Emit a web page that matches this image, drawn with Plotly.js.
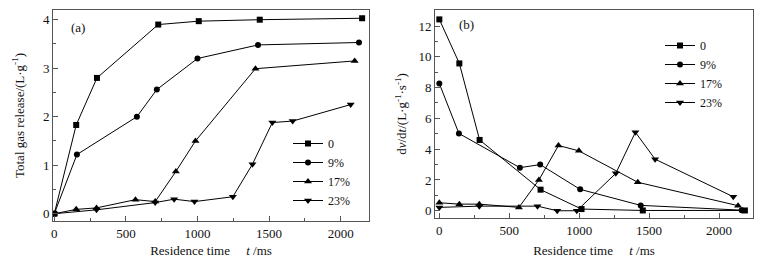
<!DOCTYPE html>
<html>
<head>
<meta charset="utf-8">
<script src="https://cdn.plot.ly/plotly-3.0.1.min.js"></script>
<style>html,body{margin:0;padding:0;background:#fff;}#chart{width:780px;height:263px;}</style>
</head>
<body>
<div id="chart"></div>
<script>
// Panel (a): total gas release
var seriesNames = ['0', '9%', '17%', '23%'];
var a_t0 = [0, 153, 298, 726, 1009, 1435, 2150];
var a_v0 = [0, 1.83, 2.80, 3.90, 3.97, 4.00, 4.03];
var a_t9 = [0, 158, 577, 716, 1000, 1423, 2128];
var a_v9 = [0, 1.22, 2.00, 2.56, 3.20, 3.48, 3.53];
var a_t17 = [0, 153, 295, 567, 705, 849, 986, 1405, 2098];
var a_v17 = [0, 0.09, 0.12, 0.29, 0.25, 0.87, 1.50, 2.99, 3.15];
var a_t23 = [0, 295, 705, 837, 979, 1247, 1384, 1523, 1665, 2070];
var a_v23 = [0, 0.08, 0.23, 0.30, 0.25, 0.35, 1.02, 1.88, 1.91, 2.25];

// Panel (b): release rate
var b_t0 = [0, 143, 288, 724, 1017, 1455, 2185];
var b_v0 = [12.43, 9.57, 4.60, 1.37, 0.11, 0.02, 0.02];
var b_t9 = [0, 140, 576, 721, 1007, 1440, 2162];
var b_v9 = [8.26, 5.02, 2.80, 3.00, 1.39, 0.35, 0.04];
var b_t17 = [0, 143, 286, 569, 712, 852, 998, 1419, 2136];
var b_v17 = [0.52, 0.43, 0.43, 0.22, 2.00, 4.24, 3.89, 1.85, 0.33];
var b_t23 = [0, 286, 702, 843, 983, 1262, 1402, 1543, 2102];
var b_v23 = [0.22, 0.30, 0.30, 0.00, 0.00, 2.43, 5.10, 3.35, 0.91];

var xTicks = [0, 500, 1000, 1500, 2000];
var yTicksA = [0, 1, 2, 3, 4];
var yTicksB = [0, 2, 4, 6, 8, 10, 12];

var symbols = ['square', 'circle', 'triangle-up', 'triangle-down'];
var sizes = [6, 6, 7, 7];

function mk(x, y, i, xa, ya, leg) {
  return {
    x: x, y: y, type: 'scatter', mode: 'lines+markers',
    name: seriesNames[i], xaxis: xa, yaxis: ya, legend: leg,
    line: {color: '#000', width: 1},
    marker: {symbol: symbols[i], size: sizes[i], color: '#000'}
  };
}

var data = [
  mk(a_t0, a_v0, 0, 'x', 'y', 'legend'),
  mk(a_t9, a_v9, 1, 'x', 'y', 'legend'),
  mk(a_t17, a_v17, 2, 'x', 'y', 'legend'),
  mk(a_t23, a_v23, 3, 'x', 'y', 'legend'),
  mk(b_t0, b_v0, 0, 'x2', 'y2', 'legend2'),
  mk(b_t9, b_v9, 1, 'x2', 'y2', 'legend2'),
  mk(b_t17, b_v17, 2, 'x2', 'y2', 'legend2'),
  mk(b_t23, b_v23, 3, 'x2', 'y2', 'legend2')
];

var font = {family: 'Liberation Serif', size: 13, color: '#111'};
var legFont = {family: 'Liberation Serif', size: 12, color: '#111'};
var axisCommon = {
  showgrid: false, zeroline: false, showline: true, mirror: true,
  linecolor: '#555', linewidth: 1, ticks: 'inside', ticklen: 5, tickcolor: '#555',
  tickfont: font
};

var layout = {
  width: 780, height: 263,
  margin: {l: 0, r: 0, t: 10, b: 42},
  paper_bgcolor: '#fff', plot_bgcolor: '#fff',
  font: font,
  showlegend: true,
  xaxis: Object.assign({}, axisCommon, {
    domain: [53/780, 369/780], range: [-9, 2198], anchor: 'y',
    tickvals: xTicks, ticktext: xTicks.map(String),
    minor: {ticks: 'inside', ticklen: 3, tickcolor: '#555', dtick: 250, tick0: 0},
    title: {text: 'Residence time     <i>t</i> /ms', font: font, standoff: 6}
  }),
  yaxis: Object.assign({}, axisCommon, {
    domain: [0, 1], range: [-0.15, 4.2], anchor: 'x',
    tickvals: yTicksA, ticktext: yTicksA.map(String),
    minor: {ticks: 'inside', ticklen: 3, tickcolor: '#555', dtick: 0.5, tick0: 0},
    title: {text: 'Total gas release/(L·g<sup>-1</sup>)', font: font, standoff: 15}
  }),
  xaxis2: Object.assign({}, axisCommon, {
    domain: [435/780, 753/780], range: [-31, 2243], anchor: 'y2',
    tickvals: xTicks, ticktext: xTicks.map(String),
    minor: {ticks: 'inside', ticklen: 3, tickcolor: '#555', dtick: 250, tick0: 0},
    title: {text: 'Residence time     <i>t</i> /ms', font: font, standoff: 9}
  }),
  yaxis2: Object.assign({}, axisCommon, {
    domain: [3/211, 1], range: [-0.47, 13.04], anchor: 'x2',
    tickvals: yTicksB, ticktext: yTicksB.map(String),
    minor: {ticks: 'inside', ticklen: 3, tickcolor: '#555', dtick: 1, tick0: 0},
    title: {text: 'd<i>v</i>/d<i>t</i>/(L·g<sup>-1</sup>·s<sup>-1</sup>)', font: font, standoff: 8}
  }),
  legend: {
    x: 288/780, y: (221-129)/211, xanchor: 'left', yanchor: 'top',
    bgcolor: 'rgba(0,0,0,0)', borderwidth: 0, font: legFont, tracegroupgap: 0
  },
  legend2: {
    x: 660/780, y: (221-31)/211, xanchor: 'left', yanchor: 'top',
    bgcolor: 'rgba(0,0,0,0)', borderwidth: 0, font: legFont, tracegroupgap: 0
  },
  annotations: [
    {text: '(a)', xref: 'paper', yref: 'paper', x: 78/780, y: (221-27)/211,
     showarrow: false, font: font, xanchor: 'center', yanchor: 'middle'},
    {text: '(b)', xref: 'paper', yref: 'paper', x: 466/780, y: (221-25)/211,
     showarrow: false, font: font, xanchor: 'center', yanchor: 'middle'}
  ]
};

Plotly.newPlot('chart', data, layout, {displayModeBar: false, staticPlot: true});
</script>
</body>
</html>
